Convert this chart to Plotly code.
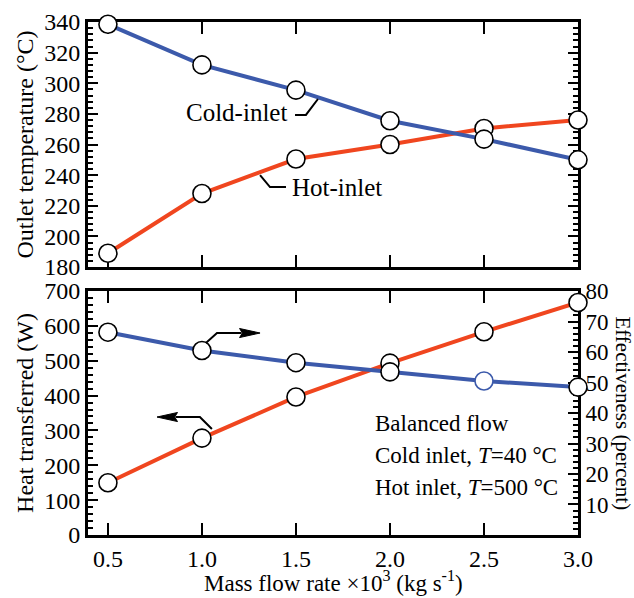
import plotly.graph_objects as go

# Mass flow rate (x10^3 kg/s)
mass_flow = [0.5, 1.0, 1.5, 2.0, 2.5, 3.0]

# Outlet temperatures (deg C)
cold_inlet_outlet = [338.5, 312, 295.5, 275.5, 263.5, 250]
hot_inlet_outlet = [189, 228, 250.5, 260, 270.5, 276]

# Heat transferred (W) and effectiveness (percent)
heat_transferred = [150, 278, 396, 493, 583, 667]
effectiveness = [66.5, 60.5, 56.5, 53.5, 50.5, 48.5]

x_ticks = [0.5, 1.0, 1.5, 2.0, 2.5, 3.0]
temp_ticks = [180, 200, 220, 240, 260, 280, 300, 320, 340]
heat_ticks = [0, 100, 200, 300, 400, 500, 600, 700]
eff_ticks = [10, 20, 30, 40, 50, 60, 70, 80]

BLUE = "#3c5aab"
RED = "#f0461f"
FONT = "Liberation Serif"
TICK_SIZE = 24
TITLE_SIZE = 24
LABEL_SIZE = 25
NOTE_SIZE = 23

fig = go.Figure()

def line_trace(x, y, color, xa, ya):
    return go.Scatter(x=x, y=y, mode="lines", line=dict(color=color, width=4),
                      xaxis=xa, yaxis=ya, cliponaxis=False, hoverinfo="skip",
                      showlegend=False)

def marker_trace(x, y, outline, xa, ya):
    return go.Scatter(x=x, y=y, mode="markers",
                      marker=dict(size=18, color="white",
                                  line=dict(color=outline, width=1.6)),
                      xaxis=xa, yaxis=ya, cliponaxis=False, showlegend=False)

# Top panel: outlet temperatures
fig.add_trace(line_trace(mass_flow, hot_inlet_outlet, RED, "x", "y"))
fig.add_trace(line_trace(mass_flow, cold_inlet_outlet, BLUE, "x", "y"))
fig.add_trace(marker_trace(mass_flow, hot_inlet_outlet, "black", "x", "y"))
fig.add_trace(marker_trace(mass_flow, cold_inlet_outlet, "black", "x", "y"))

# Bottom panel: heat transferred (left) and effectiveness (right)
fig.add_trace(line_trace(mass_flow, heat_transferred, RED, "x2", "y2"))
fig.add_trace(marker_trace(mass_flow, heat_transferred, "black", "x2", "y2"))
fig.add_trace(line_trace(mass_flow, effectiveness, BLUE, "x2", "y3"))
eff_outline = ["black", "black", "black", "black", BLUE, "black"]
fig.add_trace(marker_trace(mass_flow, effectiveness, eff_outline, "x2", "y3"))

axis_common = dict(showline=True, linecolor="black", linewidth=3,
                   ticks="inside", tickcolor="black", tickwidth=2,
                   showgrid=False, zeroline=False, layer="below traces",
                   automargin=False)

tick_font = dict(family=FONT, size=TICK_SIZE, color="black")
title_font = dict(family=FONT, size=TITLE_SIZE, color="black")
label_font = dict(family=FONT, size=LABEL_SIZE, color="black")
note_font = dict(family=FONT, size=NOTE_SIZE, color="black")
x_range = [0.394, 3.0]

fig.update_layout(
    width=634, height=598,
    margin=dict(l=88, r=56, t=22, b=63),
    paper_bgcolor="white", plot_bgcolor="white",
    font=dict(family=FONT, size=TITLE_SIZE, color="black"),
    xaxis=dict(domain=[0, 1], range=x_range, anchor="y", tickvals=x_ticks,
               showticklabels=False, ticklen=12, mirror="ticks",
               tickfont=tick_font, **axis_common),
    yaxis=dict(domain=[0.5224, 1], range=[180, 340], anchor="x",
               tickvals=temp_ticks, ticklen=10, mirror="ticks",
               tickfont=tick_font,
               minor=dict(dtick=4, tick0=180, ticks="inside", ticklen=5,
                          tickcolor="black", tickwidth=1.5),
               title=dict(text="Outlet temperature (°C)", standoff=4,
                          font=title_font),
               **axis_common),
    xaxis2=dict(domain=[0, 1], range=x_range, anchor="y2", tickvals=x_ticks,
                tickformat=".1f", ticklen=12, mirror="ticks",
                tickfont=tick_font, **axis_common),
    yaxis2=dict(domain=[0, 0.4756], range=[0, 700], anchor="x2",
                tickvals=heat_ticks, ticklen=10, tickfont=tick_font,
                minor=dict(dtick=20, tick0=0, ticks="inside", ticklen=5,
                           tickcolor="black", tickwidth=1.5),
                title=dict(text="Heat transferred (W)", standoff=4,
                           font=title_font),
                **axis_common),
    yaxis3=dict(overlaying="y2", side="right", range=[0, 80], anchor="x2",
                tickvals=eff_ticks, ticklen=10,
                tickfont=dict(family=FONT, size=23, color="black"),
                minor=dict(dtick=2, tick0=0, ticks="inside", ticklen=5,
                           tickcolor="black", tickwidth=1.5),
                **axis_common),
)

# Shared x-axis title below the bottom panel
fig.add_annotation(text="Mass flow rate ×10<sup>3</sup> (kg s<sup>-1</sup>)",
                   xref="paper", yref="paper", x=0.5, y=0.0,
                   xanchor="center", yanchor="bottom", yshift=-63,
                   showarrow=False, font=dict(family=FONT, size=23,
                                              color="black"))

# Right-hand axis title, reading top to bottom
fig.add_annotation(text="Effectiveness (percent)", xref="paper", yref="paper",
                   x=1.091, y=0.2378, textangle=90, showarrow=False,
                   xanchor="center", yanchor="middle",
                   font=dict(family=FONT, size=21, color="black"))

# Curve labels with leader lines (top panel)
fig.add_annotation(text="Cold-inlet", x=1.463, y=280.6, xref="x", yref="y",
                   xanchor="right", yanchor="middle", showarrow=False,
                   font=label_font)
fig.add_annotation(text="Hot-inlet", x=1.468, y=232.2, xref="x", yref="y",
                   xanchor="left", yanchor="middle", showarrow=False,
                   font=label_font)
fig.add_shape(type="path", xref="x", yref="y",
              path="M 1.495 279.3 L 1.553 279.3 L 1.617 289.7",
              line=dict(color="black", width=2))
fig.add_shape(type="path", xref="x", yref="y",
              path="M 1.447 232.2 L 1.362 232.2 L 1.309 240.0",
              line=dict(color="black", width=2))

# Axis pointers (bottom panel): effectiveness -> right, heat -> left
fig.add_shape(type="path", xref="x2", yref="y2",
              path="M 1.021 550.8 L 1.080 579.5 L 1.21 579.5",
              line=dict(color="black", width=2))
fig.add_shape(type="path", xref="x2", yref="y2",
              path="M 1.200 592.5 L 1.309 579.5 L 1.200 566.5 L 1.215 579.5 Z",
              fillcolor="black", line=dict(color="black", width=1))
fig.add_shape(type="path", xref="x2", yref="y2",
              path="M 1.053 304 L 0.989 338.5 L 0.86 338.5",
              line=dict(color="black", width=2))
fig.add_shape(type="path", xref="x2", yref="y2",
              path="M 0.870 351.5 L 0.761 338.5 L 0.870 325.5 L 0.855 338.5 Z",
              fillcolor="black", line=dict(color="black", width=1))

# Operating conditions
conditions = ["Balanced flow", "Cold inlet, <i>T</i>=40 °C", "Hot inlet, <i>T</i>=500 °C"]
cond_y = [321, 229.5, 135]
for txt, yy in zip(conditions, cond_y):
    fig.add_annotation(text=txt, x=1.91, y=yy, xref="x2", yref="y2",
                       xanchor="left", yanchor="middle", showarrow=False,
                       font=note_font)

fig.write_html("out.html")
